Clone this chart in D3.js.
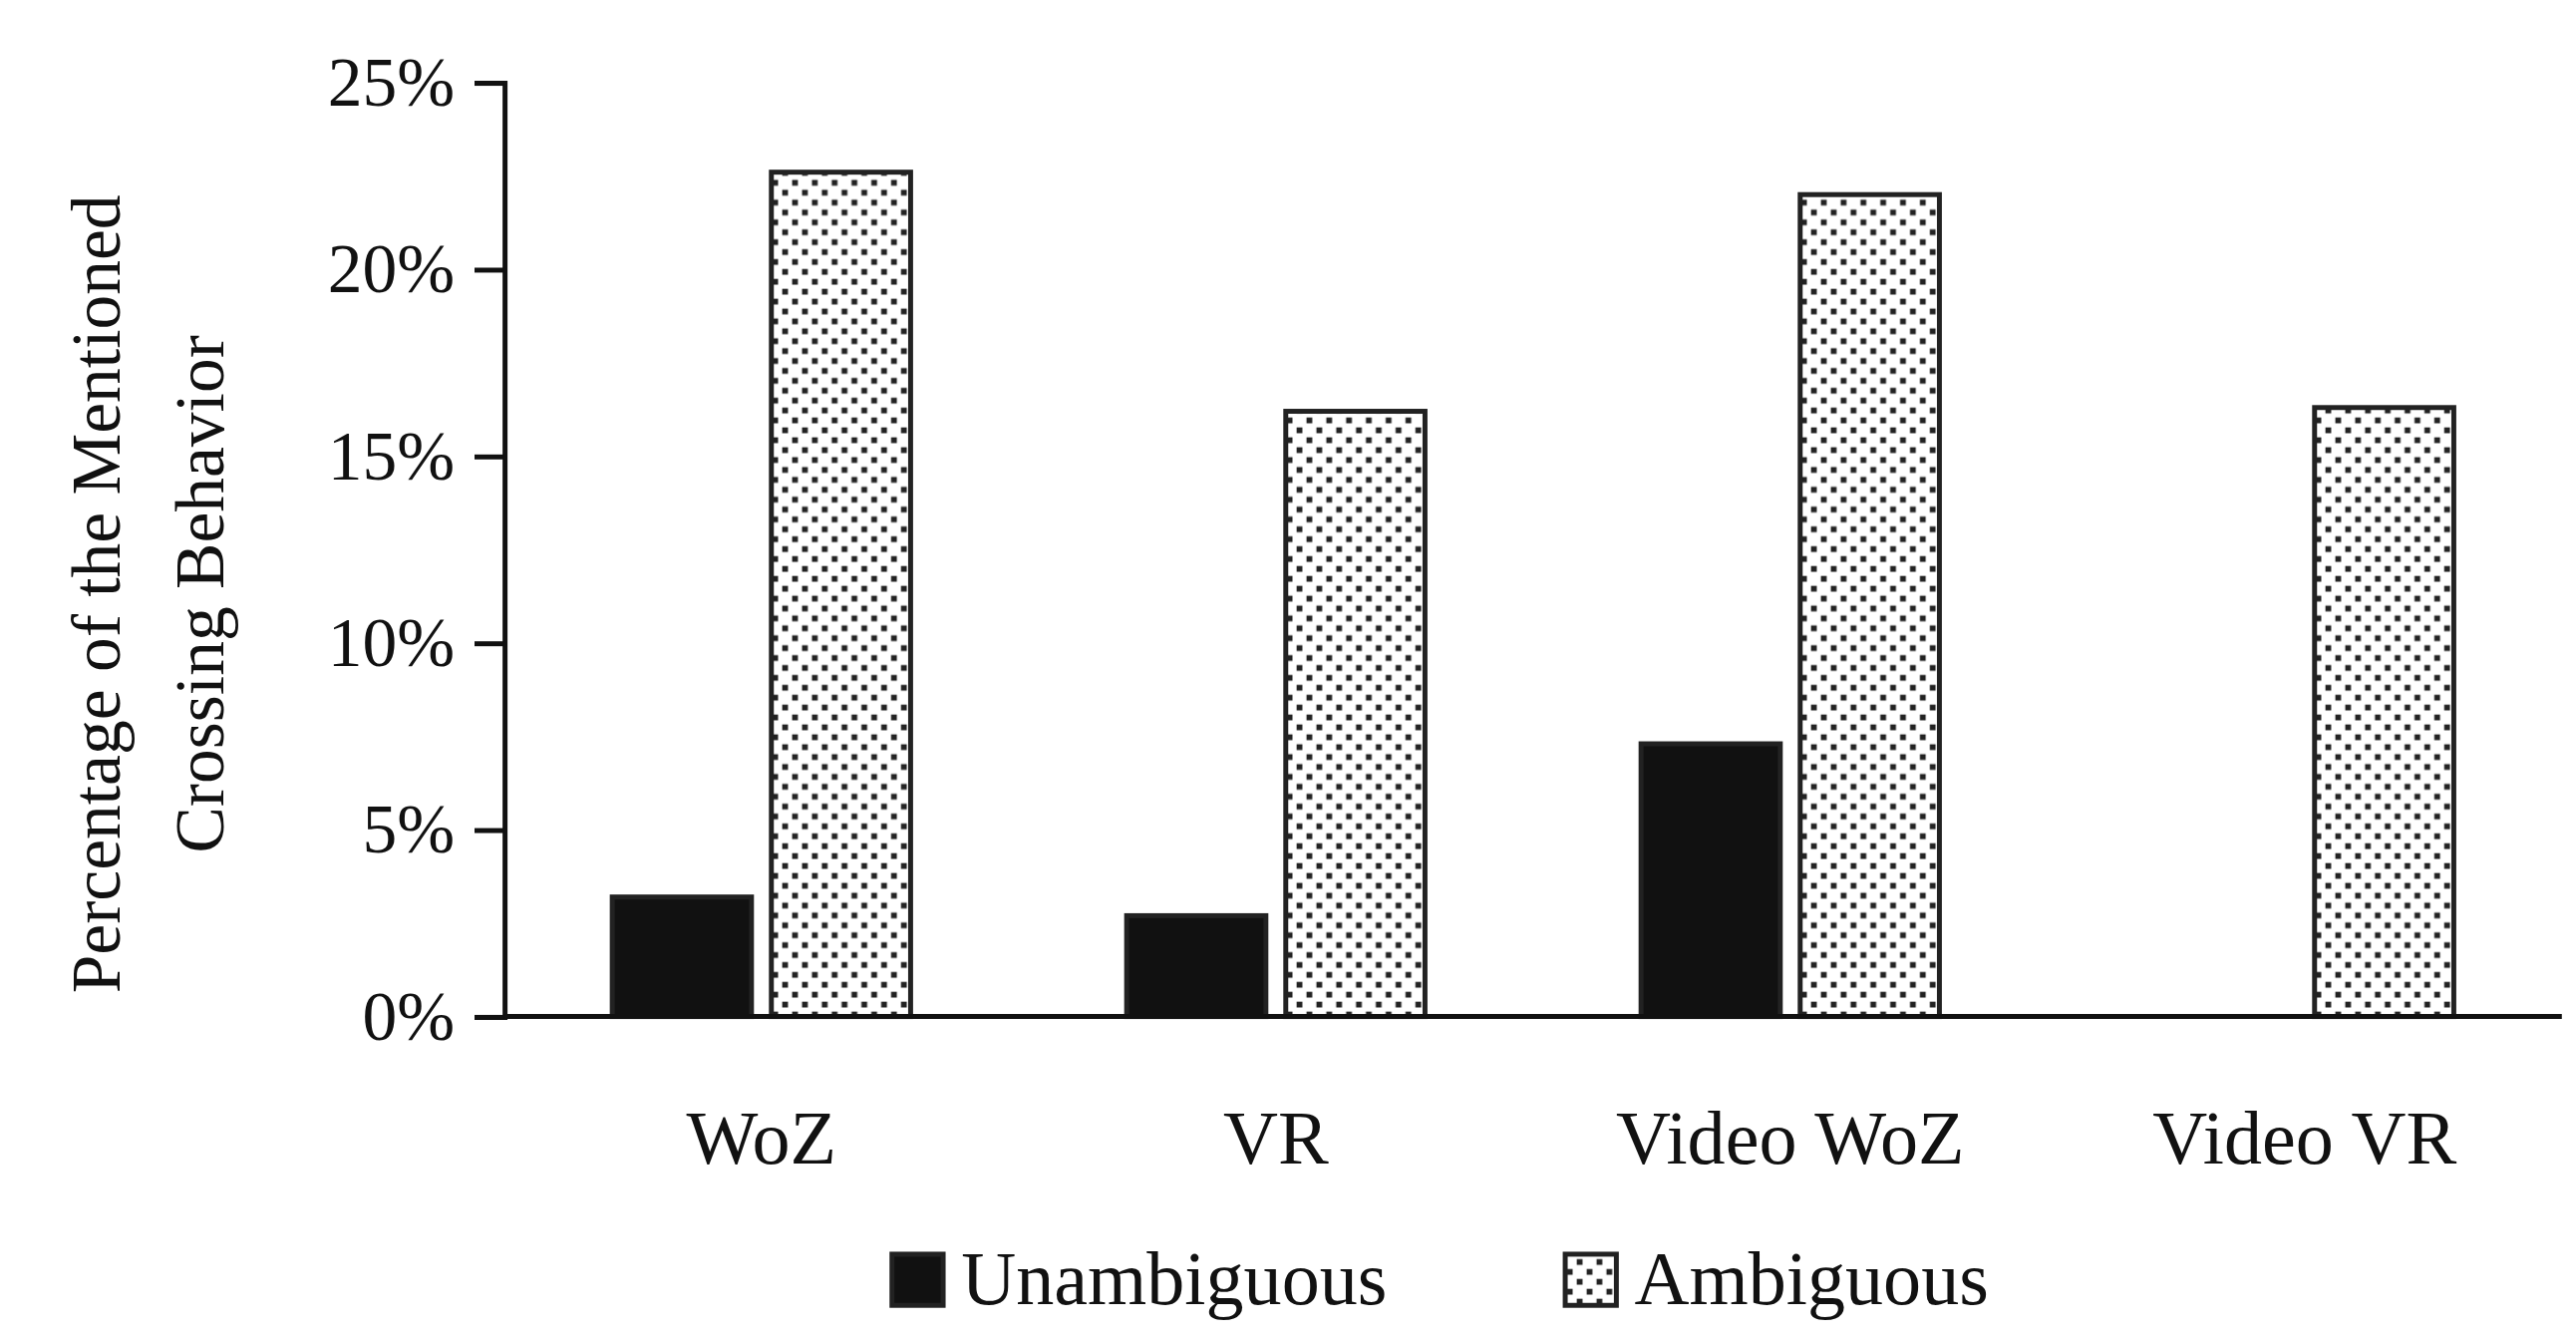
<!DOCTYPE html>
<html><head><meta charset="utf-8">
<script src="https://cdn.jsdelivr.net/npm/d3@7"></script>
<style>body{margin:0;background:#fff}svg{display:block}</style>
</head><body>
<svg id="chart" width="2584" height="1344" viewBox="0 0 1560 812"></svg>
<script>
const categories = ["WoZ", "VR", "Video WoZ", "Video VR"];
const series = ["Unambiguous", "Ambiguous"];
const unambiguous = [3.2, 2.7, 7.3, 0];
const ambiguous = [22.6, 16.2, 22.0, 16.3];
const yTicks = [0, 5, 10, 15, 20, 25];

const svg = d3.select("#chart");
const font = "'Liberation Serif', 'DejaVu Serif', serif";
const plotLeft = 305, plotRight = 1552, plotTop = 50, plotBottom = 616;

const defs = svg.append("defs");
const pat = defs.append("pattern").attr("id", "dots")
    .attr("patternUnits", "userSpaceOnUse").attr("width", 12).attr("height", 12);
pat.append("rect").attr("width", 12).attr("height", 12).attr("fill", "#fff");
pat.append("rect").attr("x", 1).attr("y", 1).attr("width", 3.5).attr("height", 3.5).attr("fill", "#222");
pat.append("rect").attr("x", 7).attr("y", 7).attr("width", 3.5).attr("height", 3.5).attr("fill", "#222");

const x0 = d3.scaleBand().domain(categories).range([plotLeft, plotRight]).paddingInner(0.42).paddingOuter(0.21);
const x1 = d3.scaleBand().domain(series).range([0, x0.bandwidth()]).paddingInner(0.125);
const y = d3.scaleLinear().domain([0, 25]).range([plotBottom, plotTop]);

const fills = {Unambiguous: "#111", Ambiguous: "url(#dots)"};
const rows = categories.map((c, i) => ({c, vals: [unambiguous[i], ambiguous[i]]}));

const g = svg.selectAll("g.grp").data(rows).enter().append("g")
    .attr("transform", d => `translate(${x0(d.c)},0)`);
g.selectAll("rect").data(d => d.vals.map((v, j) => ({s: series[j], v})).filter(e => e.v > 0))
    .enter().append("rect")
    .attr("x", d => x1(d.s)).attr("width", x1.bandwidth())
    .attr("y", d => y(d.v)).attr("height", d => y(0) - y(d.v))
    .attr("fill", d => fills[d.s]).attr("stroke", "#222").attr("stroke-width", 3);

const yAxis = svg.append("g").attr("transform", `translate(${plotLeft},0)`)
    .call(d3.axisLeft(y).tickValues(yTicks).tickFormat(d => d + "%").tickSize(18).tickPadding(12));
yAxis.select(".domain").attr("stroke", "#111").attr("stroke-width", 3);
yAxis.selectAll(".tick line").attr("stroke", "#111").attr("stroke-width", 3);
yAxis.selectAll("text").attr("font-family", font).attr("font-size", 42).attr("fill", "#111");

svg.append("line").attr("x1", plotLeft).attr("x2", plotRight).attr("y1", plotBottom).attr("y2", plotBottom)
    .attr("stroke", "#111").attr("stroke-width", 3);

svg.selectAll("text.cat").data(categories).enter().append("text")
    .attr("x", d => x0(d) + x0.bandwidth() / 2).attr("y", 705)
    .attr("text-anchor", "middle").attr("font-family", font).attr("font-size", 46).attr("fill", "#111")
    .text(d => d);

const yt = svg.append("text").attr("transform", "translate(0,360) rotate(-90)")
    .attr("text-anchor", "middle").attr("font-family", font).attr("font-size", 42).attr("fill", "#111");
yt.append("tspan").attr("x", 0).attr("y", 72).text("Percentage of the Mentioned");
yt.append("tspan").attr("x", 0).attr("y", 135).text("Crossing Behavior");

const legendX = [540, 948];
series.forEach((s, i) => {
    svg.append("rect").attr("x", legendX[i]).attr("y", 760).attr("width", 31).attr("height", 31)
        .attr("fill", fills[s]).attr("stroke", "#222").attr("stroke-width", 3);
    svg.append("text").attr("x", legendX[i] + 42).attr("y", 790)
        .attr("font-family", font).attr("font-size", 46).attr("fill", "#111").text(s);
});
</script>
</body></html>
